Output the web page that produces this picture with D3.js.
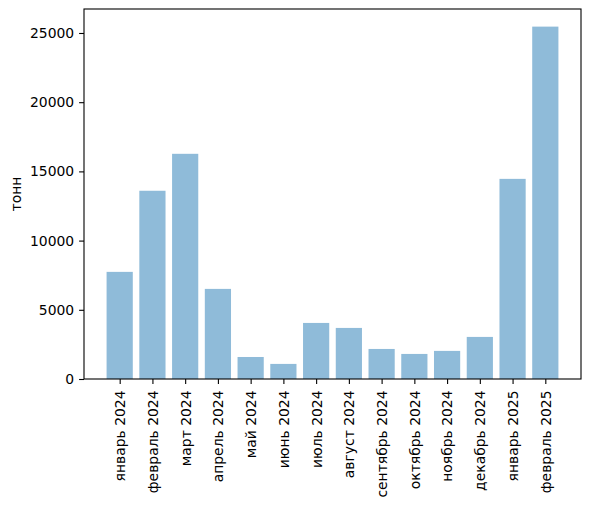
<!DOCTYPE html>
<html>
<head>
<meta charset="utf-8">
<script src="https://cdn.jsdelivr.net/npm/d3@7"></script>
<style>
  body { margin: 0; background: #fff; }
  svg { display: block; }
  text { font-family: "DejaVu Sans", sans-serif; fill: #000; }
</style>
</head>
<body>
<svg id="chart" width="589" height="506"></svg>
<script>
const categories = ["январь 2024", "февраль 2024", "март 2024", "апрель 2024", "май 2024", "июнь 2024",
  "июль 2024", "август 2024", "сентябрь 2024", "октябрь 2024", "ноябрь 2024", "декабрь 2024",
  "январь 2025", "февраль 2025"];
const values = [7740, 13600, 16270, 6510, 1590, 1090, 4050, 3690, 2170, 1810, 2030, 3040, 14460, 25460];
const yTicks = [0, 5000, 10000, 15000, 20000, 25000];
const yLabel = "тонн";

(function () {
const svg = d3.select("#chart");
const mLeft = 84, mRight = 581, mTop = 9, mBottom = 379;
const fs = 13.9;

const n = categories.length;
const barW = 0.8;
const xmin = -barW / 2, xmax = n - 1 + barW / 2;
const xm = (xmax - xmin) * 0.05;
const x = d3.scaleLinear().domain([xmin - xm, xmax + xm]).range([mLeft, mRight]);

const vmax = d3.max(values);
const y = d3.scaleLinear().domain([0, vmax * 1.05]).range([mBottom, mTop]);

svg.append("g").selectAll("rect").data(values).join("rect")
  .attr("x", (d, i) => x(i - barW / 2))
  .attr("width", (d, i) => x(i + barW / 2) - x(i - barW / 2))
  .attr("y", d => y(d))
  .attr("height", d => y(0) - y(d))
  .attr("fill", "#1f77b4")
  .attr("fill-opacity", 0.5);

const xAxis = d3.axisBottom(x).tickValues(d3.range(n)).tickFormat(i => categories[i])
  .tickSize(4.9).tickPadding(4.9).tickSizeOuter(0);
const gx = svg.append("g").attr("transform", `translate(0,${mBottom})`).call(xAxis);
gx.select(".domain").remove();
gx.selectAll("line").attr("stroke", "#000").attr("stroke-width", 1.1);
gx.selectAll("text")
  .attr("font-size", fs)
  .attr("font-family", "DejaVu Sans")
  .attr("text-anchor", "end")
  .attr("dy", "0.35em")
  .attr("transform", "translate(0, 11.5) rotate(-90)")
  .attr("x", 0).attr("y", 0);

const yAxis = d3.axisLeft(y).tickValues(yTicks).tickFormat(d3.format("d"))
  .tickSize(4.9).tickPadding(4.9).tickSizeOuter(0);
const gy = svg.append("g").attr("transform", `translate(${mLeft},0)`).call(yAxis);
gy.select(".domain").remove();
gy.selectAll("line").attr("stroke", "#000").attr("stroke-width", 1.1);
gy.selectAll("text").attr("font-size", fs).attr("font-family", "DejaVu Sans");

svg.append("rect")
  .attr("x", mLeft).attr("y", mTop)
  .attr("width", mRight - mLeft).attr("height", mBottom - mTop)
  .attr("fill", "none").attr("stroke", "#000").attr("stroke-width", 1.1);

svg.append("text")
  .attr("transform", `translate(21,${(mTop + mBottom) / 2}) rotate(-90)`)
  .attr("text-anchor", "middle")
  .attr("font-size", fs)
  .text(yLabel);
})();
</script>
</body>
</html>
